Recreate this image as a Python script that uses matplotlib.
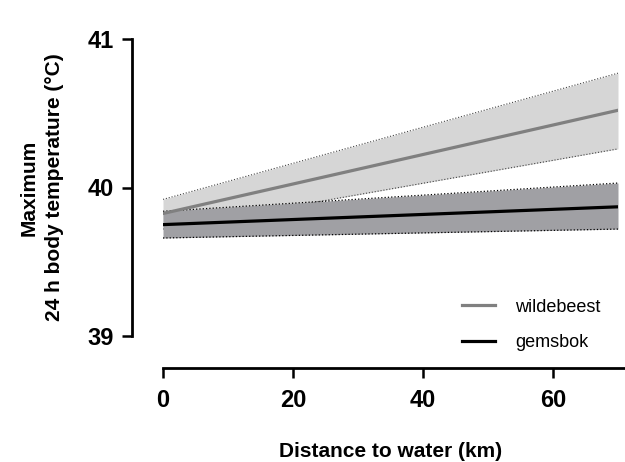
import numpy as np
import matplotlib
matplotlib.use("Agg")
from matplotlib import pyplot as plt

plt.rcParams['font.family'] = ['Liberation Sans', 'DejaVu Sans']

# distance to water (km), endpoints of the fitted lines
distance = [0, 70]

# wildebeest: fit and confidence band
wildebeest_fit = [39.825, 40.52]
wildebeest_upper = [39.92, 40.77]
wildebeest_lower = [39.72, 40.26]

# gemsbok: fit and confidence band
gemsbok_fit = [39.75, 39.87]
gemsbok_upper = [39.84, 40.03]
gemsbok_lower = [39.66, 39.72]

x_ticks = [0, 20, 40, 60]
y_ticks = [39, 40, 41]

fig = plt.figure(figsize=(6.25, 4.62), dpi=100)
ax = fig.add_axes([163 / 625, 126 / 462, 455 / 625, 297 / 462])

# wildebeest band (light) underneath
ax.fill_between(distance, wildebeest_lower, wildebeest_upper, color='#d6d6d6', lw=0, zorder=1)
ax.plot(distance, wildebeest_upper, color='#444444', ls=':', lw=0.8, zorder=2)
ax.plot(distance, wildebeest_lower, color='#444444', ls=':', lw=0.8, zorder=2)

# gemsbok band (dark) on top
ax.fill_between(distance, gemsbok_lower, gemsbok_upper, color='#a0a0a4', lw=0, zorder=3)
ax.plot(distance, gemsbok_upper, color='black', ls=':', lw=0.9, zorder=4)
ax.plot(distance, gemsbok_lower, color='black', ls=':', lw=0.9, zorder=4)

ax.plot(distance, wildebeest_fit, color='#808080', lw=2.3, zorder=5, label='wildebeest')
ax.plot(distance, gemsbok_fit, color='black', lw=2.3, zorder=6, label='gemsbok')

ax.set_xlim(0, 70)
ax.set_ylim(39, 41)
ax.set_xticks(x_ticks)
ax.set_yticks(y_ticks)

for side in ['top', 'right']:
    ax.spines[side].set_visible(False)
ax.spines['left'].set_position(('outward', 22.3))
ax.spines['bottom'].set_position(('outward', 23))
ax.spines['bottom'].set_bounds(0, 71)
for side in ['left', 'bottom']:
    ax.spines[side].set_linewidth(2)

ax.tick_params(axis='both', length=7, width=1.8, labelsize=17, pad=6)
ax.tick_params(axis='x', pad=8)
for lab in ax.get_xticklabels() + ax.get_yticklabels():
    lab.set_fontweight('bold')

ax.set_xlabel('Distance to water (km)', fontsize=15, fontweight='bold', labelpad=22)
ax.set_ylabel('Maximum\n24 h body temperature (°C)', fontsize=15, fontweight='bold',
              multialignment='center', labelpad=17, linespacing=1.45)

ax.legend(loc='lower left', bbox_to_anchor=((462 - 163) / 455, -0.05),
          borderaxespad=0, borderpad=0,
          frameon=False, fontsize=13, handlelength=1.85, handletextpad=1.1, labelspacing=1.0)

fig.savefig('out.png', dpi=100)
